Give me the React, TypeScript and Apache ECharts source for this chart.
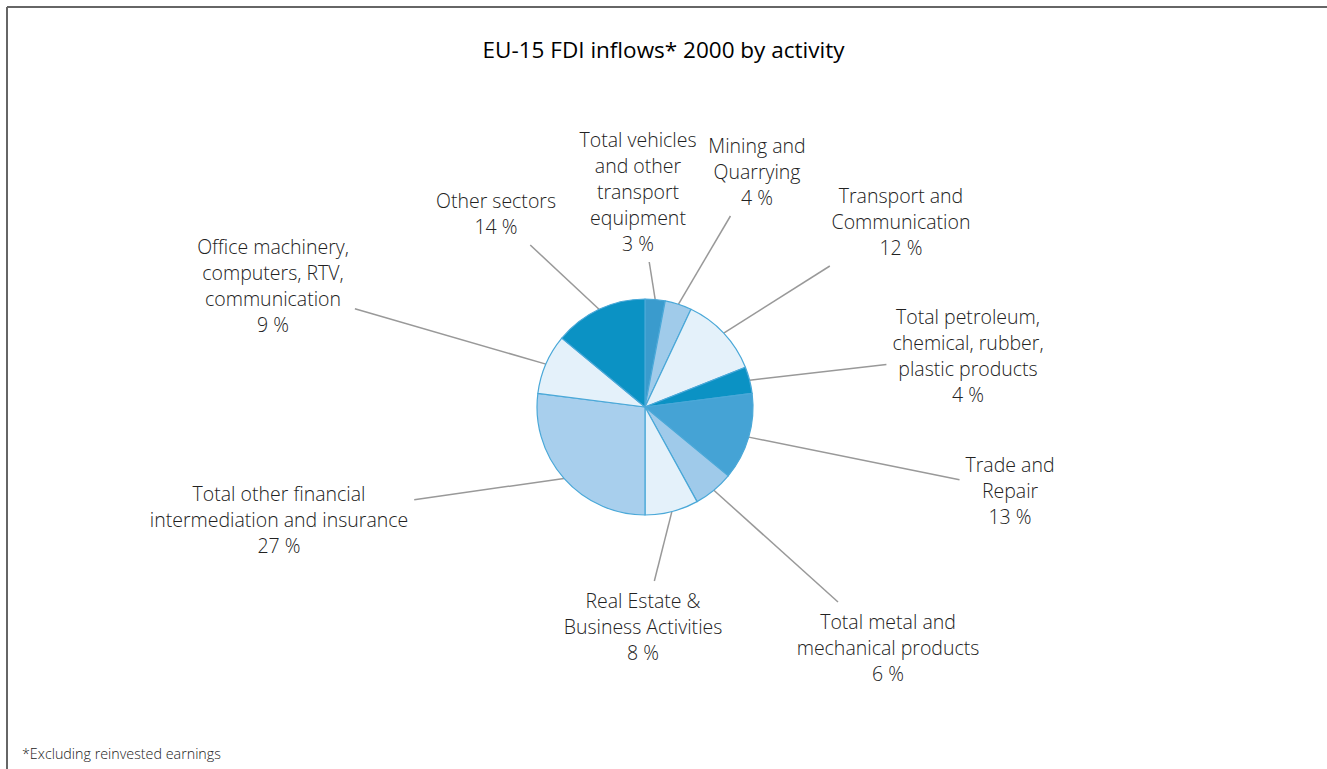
import React, { useEffect, useRef } from 'react';
import * as echarts from 'echarts';

// ---- data ----
const categories: string[] = [
  'Total vehicles\nand other\ntransport\nequipment',
  'Mining and\nQuarrying',
  'Transport and\nCommunication',
  'Total petroleum,\nchemical, rubber,\nplastic products',
  'Trade and\nRepair',
  'Total metal and\nmechanical products',
  'Real Estate &\nBusiness Activities',
  'Total other financial\nintermediation and insurance',
  'Office machinery,\ncomputers, RTV,\ncommunication',
  'Other sectors',
];
const shares: number[] = [3, 4, 12, 4, 13, 6, 8, 27, 9, 14];

// ---- styles / layout ----
const sliceColors: string[] = [
  '#3a9bcd', '#a0cbea', '#e4f1fa', '#0b92c4', '#45a3d5',
  '#9fcaea', '#e4f1fa', '#a8cfed', '#e4f1fa', '#0b92c4',
];
// centre of each label block, in page pixels
const labelCenters: [number, number][] = [
  [638, 191], [757, 171], [901, 221], [968, 355], [1010, 490],
  [888, 647], [643, 626], [279, 519], [273, 285], [496, 213],
];

const FONT = '"Open Sans", Lato, sans-serif';

export default function App() {
  const ref = useRef<HTMLDivElement>(null);
  useEffect(() => {
    const chart = echarts.init(ref.current!, null, { renderer: 'svg' });
    const gap = 6;
    chart.setOption({
      animation: false,
      backgroundColor: '#ffffff',
      title: {
        text: 'EU-15 FDI inflows* 2000 by activity',
        left: 'center',
        top: 33,
        textStyle: { fontFamily: FONT, fontSize: 22.5, fontWeight: 'normal', color: '#000' },
      },
      graphic: [
        { type: 'line', shape: { x1: 7, y1: 7, x2: 1327, y2: 7 }, style: { stroke: '#666', lineWidth: 2 } },
        { type: 'line', shape: { x1: 7, y1: 7, x2: 7, y2: 769 }, style: { stroke: '#666', lineWidth: 2 } },
        {
          type: 'text', left: 22, top: 746,
          style: { text: '*Excluding reinvested earnings', fontFamily: FONT, fontSize: 14.3, fontWeight: 300, fill: '#222' },
        },
      ],
      series: [
        {
          type: 'pie',
          center: [645, 407],
          radius: 108,
          startAngle: 90,
          clockwise: true,
          avoidLabelOverlap: false,
          emphasis: { disabled: true },
          itemStyle: { borderColor: '#4aa8d8', borderWidth: 1.2 },
          data: categories.map((name, i) => ({
            name,
            value: shares[i],
            itemStyle: { color: sliceColors[i] },
          })),
          label: {
            show: true,
            position: 'outside',
            formatter: (p: any) => `${p.name}\n${p.value} %`,
            fontFamily: FONT,
            fontSize: 19.5,
            fontWeight: 300,
            lineHeight: 26,
            color: '#222',
          },
          labelLine: {
            show: true,
            length: 10,
            length2: 0,
            lineStyle: { color: '#999999', width: 1.5 },
          },
          labelLayout: (params: any) => {
            const [cx, cy] = labelCenters[params.dataIndex];
            const w = params.labelRect.width;
            const h = params.labelRect.height;
            const pts = params.labelLinePoints;
            let labelLinePoints: any = undefined;
            if (pts && pts.length) {
              const p0 = pts[0];
              const dx = cx - p0[0];
              const dy = cy - p0[1];
              const tx = Math.abs(dx) > 1e-6 ? 1 - (w / 2 + gap) / Math.abs(dx) : -Infinity;
              const ty = Math.abs(dy) > 1e-6 ? 1 - (h / 2 + gap) / Math.abs(dy) : -Infinity;
              const t = Math.max(tx, ty, 0);
              labelLinePoints = [
                [p0[0], p0[1]],
                [p0[0] + dx * t, p0[1] + dy * t],
              ];
            }
            return { x: cx, y: cy, align: 'center', verticalAlign: 'middle', labelLinePoints };
          },
        },
      ],
    });
    return () => chart.dispose();
  }, []);
  return (
    <div
      ref={ref}
      style={{ position: 'fixed', left: 0, top: 0, width: 1327, height: 769 }}
    />
  );
}
